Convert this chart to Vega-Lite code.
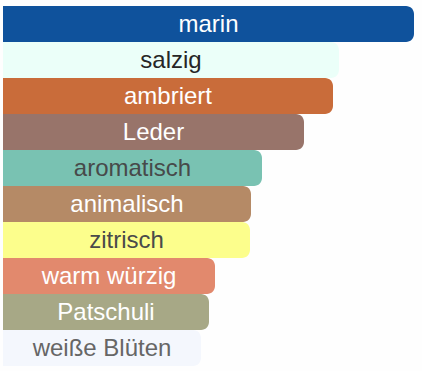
{
  "$schema": "https://vega.github.io/schema/vega-lite/v6.json",
  "width": 411,
  "height": 360,
  "autosize": {"type": "none"},
  "padding": {"left": 3, "top": 6, "right": 8, "bottom": 5},
  "background": "#fefefe",
  "config": {"view": {"stroke": null}},
  "data": {"values": [
    {"name": "marin", "value": 411},
    {"name": "salzig", "value": 336},
    {"name": "ambriert", "value": 330},
    {"name": "Leder", "value": 301},
    {"name": "aromatisch", "value": 259},
    {"name": "animalisch", "value": 248},
    {"name": "zitrisch", "value": 247},
    {"name": "warm würzig", "value": 212},
    {"name": "Patschuli", "value": 206},
    {"name": "weiße Blüten", "value": 198}
  ]},
  "encoding": {
    "y": {"field": "name", "type": "nominal", "sort": null, "axis": null, "scale": {"paddingInner": 0, "paddingOuter": 0}}
  },
  "layer": [
    {
      "mark": {"type": "bar", "cornerRadiusTopRight": 8, "cornerRadiusBottomRight": 8},
      "encoding": {
        "x": {"field": "value", "type": "quantitative", "axis": null, "scale": {"domain": [0, 411], "nice": false}},
        "color": {"field": "name", "type": "nominal", "legend": null, "sort": null,
          "scale": {"domain": ["marin","salzig","ambriert","Leder","aromatisch","animalisch","zitrisch","warm würzig","Patschuli","weiße Blüten"],
                    "range": ["#0f529c","#ebfff9","#c96c3a","#98746a","#79c2b2","#b58a66","#fcfe8c","#e2896d","#a7a886","#f4f7fd"]}}
      }
    },
    {
      "transform": [{"calculate": "datum.value / 2", "as": "mid"}],
      "mark": {"type": "text", "fontSize": 24, "font": "Liberation Sans", "align": "center", "baseline": "middle", "dy": 1},
      "encoding": {
        "x": {"field": "mid", "type": "quantitative", "scale": {"domain": [0, 411], "nice": false}},
        "text": {"field": "name"},
        "color": {"field": "name", "type": "nominal", "legend": null, "sort": null,
          "scale": {"domain": ["marin","salzig","ambriert","Leder","aromatisch","animalisch","zitrisch","warm würzig","Patschuli","weiße Blüten"],
                    "range": ["#ffffff","#262626","#ffffff","#ffffff","#474a4a","#ffffff","#4a4a4a","#ffffff","#ffffff","#666666"]}}
      }
    }
  ],
  "resolve": {"scale": {"color": "independent"}}
}
